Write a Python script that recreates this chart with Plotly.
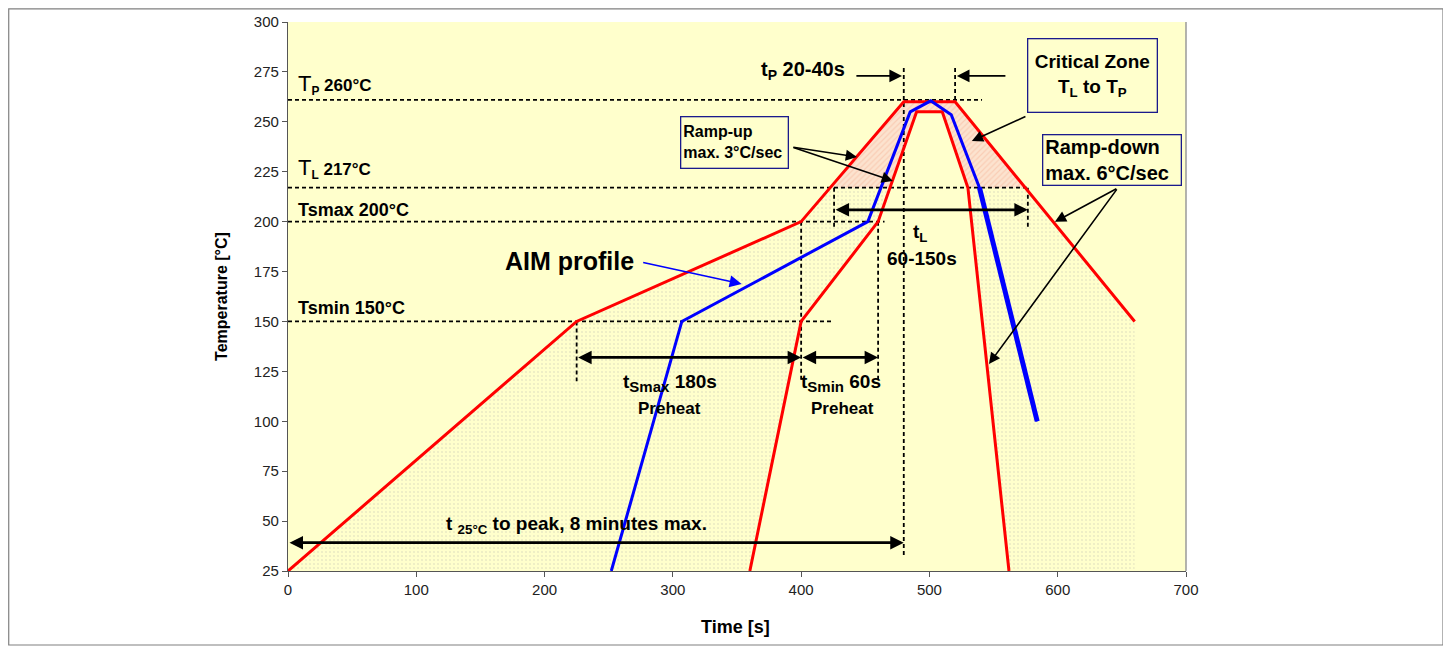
import plotly.graph_objects as go

# ---------------- data ----------------
outer_t = [0, 225, 400, 480, 520, 660]
outer_T = [25, 150, 200, 260, 260, 150]
inner_t = [360, 400, 460, 490, 510, 530, 562]
inner_T = [25, 150, 200, 255, 255, 217, 25]
aim_t = [252, 307, 452, 485, 501, 517, 539, 584]
aim_T = [25, 150, 200, 255, 260.5, 253.5, 217, 100]

T_START = 25
T_SMIN = 150
T_SMAX = 200
T_L = 217
T_P_LINE = 261
T_PREHEAT_START = 225
T_PREHEAT_MAX_END = 400
T_PREHEAT_MIN_END = 460
T_PEAK_START = 480
T_PEAK_END = 520
T_END_FILL = 660

x_ticks = [0, 100, 200, 300, 400, 500, 600, 700]
y_ticks = [25, 50, 75, 100, 125, 150, 175, 200, 225, 250, 275, 300]

FONT = "Liberation Sans, Arial, sans-serif"
BG = "#FFFFCC"


def x_at(ts, Ts, level, rising=True):
    for i in range(len(ts) - 1):
        a, b = Ts[i], Ts[i + 1]
        if a == b:
            continue
        if rising and a <= level <= b:
            return ts[i] + (level - a) / (b - a) * (ts[i + 1] - ts[i])
        if (not rising) and a >= level >= b:
            return ts[i] + (level - a) / (b - a) * (ts[i + 1] - ts[i])
    return None


oL = x_at(outer_t, outer_T, T_L, True)
oR = x_at(outer_t, outer_T, T_L, False)
iL = x_at(inner_t, inner_T, T_L, True)
iR = x_at(inner_t, inner_T, T_L, False)

# left dotted region (between outer and inner ascending, below T_L)
lx = [t for t, T in zip(outer_t, outer_T) if T < T_L and t < oL] + [oL, iL]
ly = [T for t, T in zip(outer_t, outer_T) if T < T_L and t < oL] + [T_L, T_L]
inn = [(t, T) for t, T in zip(inner_t, inner_T) if T < T_L and t < iL][::-1]
lx += [p[0] for p in inn]
ly += [p[1] for p in inn]

# right dotted region
rx = [iR, oR] + [t for t, T in zip(outer_t, outer_T) if t > oR] + [T_END_FILL]
ry = [T_L, T_L] + [T for t, T in zip(outer_t, outer_T) if t > oR] + [T_START]
inn_r = [(t, T) for t, T in zip(inner_t, inner_T) if t > iR][::-1]
rx += [p[0] for p in inn_r]
ry += [p[1] for p in inn_r]

# critical (pink) zone
px_ = [oL] + [t for t, T in zip(outer_t, outer_T) if T > T_L] + [oR, iR]
py_ = [T_L] + [T for t, T in zip(outer_t, outer_T) if T > T_L] + [T_L, T_L]
inn_c = [(t, T) for t, T in zip(inner_t, inner_T) if T > T_L][::-1]
px_ += [p[0] for p in inn_c] + [iL]
py_ += [p[1] for p in inn_c] + [T_L]

fig = go.Figure()

dot_pat = dict(shape=".", fgcolor="#D6D6BA", bgcolor=BG, size=4, solidity=0.22)
fig.add_trace(go.Scatter(x=lx, y=ly, fill="toself", mode="lines", line=dict(width=0),
                         fillcolor=BG, fillpattern=dot_pat, hoverinfo="skip"))
fig.add_trace(go.Scatter(x=rx, y=ry, fill="toself", mode="lines", line=dict(width=0),
                         fillcolor=BG, fillpattern=dot_pat, hoverinfo="skip"))
fig.add_trace(go.Scatter(x=px_, y=py_, fill="toself", mode="lines", line=dict(width=0),
                         fillcolor="#FCE3CF",
                         fillpattern=dict(shape="/", fgcolor="#F5B89C", bgcolor="#FCE3CF",
                                          size=4, solidity=0.3),
                         hoverinfo="skip"))

# dashed reference lines (drawn as traces)
dash_style = dict(color="black", width=1.8, dash="4px,3px")
h_lines = [(T_P_LINE, 0, 541), (T_L, 0, 577), (T_SMAX, 0, 465), (T_SMIN, 0, 425.6)]
for yv, x0, x1 in h_lines:
    fig.add_trace(go.Scatter(x=[x0, x1], y=[yv, yv], mode="lines", line=dash_style,
                             hoverinfo="skip"))
v_lines = [(T_PREHEAT_START, T_SMIN, 120), (T_PREHEAT_MAX_END, T_SMAX, 120),
           (T_PREHEAT_MIN_END, T_SMAX, 120), (oL + 3, T_L, 196.5), (oR + 2, T_L, 196.5),
           (T_PEAK_START, 277, 33), (T_PEAK_END, 277, 260)]
for xv, y0, y1 in v_lines:
    fig.add_trace(go.Scatter(x=[xv, xv], y=[y0, y1], mode="lines", line=dash_style,
                             hoverinfo="skip"))

# profiles
fig.add_trace(go.Scatter(x=outer_t, y=outer_T, mode="lines",
                         line=dict(color="#FF0000", width=3), hoverinfo="skip"))
fig.add_trace(go.Scatter(x=inner_t, y=inner_T, mode="lines",
                         line=dict(color="#FF0000", width=3), hoverinfo="skip"))
fig.add_trace(go.Scatter(x=aim_t, y=aim_T, mode="lines",
                         line=dict(color="#0000FF", width=3), hoverinfo="skip"))
fig.add_trace(go.Scatter(x=aim_t[-2:], y=aim_T[-2:], mode="lines",
                         line=dict(color="#0000FF", width=5), hoverinfo="skip"))

ann = []


def text(x, y, s, size=18, xanchor="center", bold=True, **kw):
    d = dict(x=x, y=y, xref="x", yref="y", text=(f"<b>{s}</b>" if bold else s),
             showarrow=False, xanchor=xanchor, yanchor="middle",
             font=dict(family=FONT, size=size, color="black"))
    d.update(kw)
    ann.append(d)


def arrow(x0, y0, x1, y1, width=1.5, size=1.5, color="black", both=False):
    ann.append(dict(x=x1, y=y1, ax=x0, ay=y0, xref="x", yref="y", axref="x", ayref="y",
                    text="", showarrow=True, arrowhead=2, arrowsize=size, arrowwidth=width,
                    arrowcolor=color, standoff=0, startstandoff=0,
                    arrowside="end+start" if both else "end"))


text(6, 268.5, '<span style="font-size:22px">T</span><b><sub>P</sub> 260°C</b>', size=17,
     xanchor="left", bold=False)
text(6, 226.5, '<span style="font-size:22px">T</span><b><sub>L</sub> 217°C</b>', size=17,
     xanchor="left", bold=False)
text(6, 206, "Tsmax 200°C", size=18, xanchor="left")
text(6, 156.5, "Tsmin 150°C", size=18, xanchor="left")
text(167.5, 180.5, "AIM profile", size=25, xanchor="left")
arrow(275.7, 179.7, 353.6, 168.8, width=1.6, size=1.5, color="#0000FF")

text(401.5, 275.5, "t<sub>P</sub> 20-40s", size=20)
arrow(441.9, 273, 478.6, 273, width=1.8, size=1.4)
arrow(560.4, 273, 521.4, 273, width=1.8, size=1.4)

# boxes
ann.append(dict(x=627.4, y=273.2, xref="x", yref="y", showarrow=False,
                text="<b>Critical Zone<br>T<sub>L</sub> to T<sub>P</sub></b>",
                font=dict(family=FONT, size=19, color="black"), align="center",
                bgcolor=BG, bordercolor="#1A1A8C", borderwidth=1.3, borderpad=2,
                width=124, height=68))
ann.append(dict(x=348.4, y=239.7, xref="x", yref="y", showarrow=False,
                text="<b>Ramp-up<br>max. 3°C/sec</b>",
                font=dict(family=FONT, size=16, color="black"), align="left",
                bgcolor=BG, bordercolor="#1A1A8C", borderwidth=1.3, borderpad=2,
                width=102, height=46))
ann.append(dict(x=642.6, y=230.9, xref="x", yref="y", showarrow=False,
                text="<b>Ramp-down<br>max. 6°C/sec</b>",
                font=dict(family=FONT, size=20, color="black"), align="left",
                bgcolor=BG, bordercolor="#1A1A8C", borderwidth=1.3, borderpad=2,
                width=133, height=45))

arrow(392.8, 237.4, 443.5, 232.4, width=1.6, size=1.4)
arrow(392.8, 237.4, 471.5, 220.4, width=1.6, size=1.4)
arrow(576, 253, 533.1, 240.4, width=1.6, size=1.4)
arrow(646.9, 216.9, 597.8, 199.9, width=1.6, size=1.4)
arrow(646.9, 216.9, 546.4, 128.7, width=1.6, size=1.4)

# timing arrows
arrow(oL + 3, 205.9, oR + 2, 205.9, width=2.7, size=1, both=True)
arrow(T_PREHEAT_START, 132, T_PREHEAT_MAX_END, 132, width=2.7, size=1, both=True)
arrow(T_PREHEAT_MAX_END, 132, T_PREHEAT_MIN_END, 132, width=2.7, size=1, both=True)
arrow(0, 39.2, T_PEAK_START, 39.2, width=2.7, size=1, both=True)

SUB = '<sub><span style="font-size:15px">{}</span></sub>'
text(492.6, 194.5, "t<sub>L</sub>", size=19)
text(494.2, 181.3, "60-150s", size=19)
text(297.7, 119.3, "t" + SUB.format("Smax") + " 180s", size=19)
text(297.7, 106.2, "Preheat", size=17)
text(431, 119.3, "t" + SUB.format("Smin") + " 60s", size=19)
text(432.6, 106.2, "Preheat", size=17)
text(224.5, 48, "t <sub>25°C</sub> to peak, 8 minutes max.", size=19)

# axis titles
ann.append(dict(x=-0.0735, y=0.501, xref="paper", yref="paper", showarrow=False,
                xanchor="center", yanchor="middle",
                text="<b>Temperature [°C]</b>", textangle=-90,
                font=dict(family=FONT, size=16, color="black")))
ann.append(dict(x=0.4978, y=-0.102, xref="paper", yref="paper", showarrow=False,
                xanchor="center", yanchor="middle",
                text="<b>Time [s]</b>", font=dict(family=FONT, size=18, color="black")))

shapes = [
    dict(type="rect", xref="paper", yref="paper", x0=-0.3110, x1=1.2862, y0=-0.1348,
         y1=1.0240, line=dict(color="#808080", width=1.2), fillcolor="rgba(0,0,0,0)",
         layer="below"),
    dict(type="line", xref="paper", yref="paper", x0=1, x1=1, y0=0, y1=1,
         line=dict(color="#9A9A9A", width=1.5)),
]

fig.update_layout(
    width=1443, height=643, autosize=False,
    margin=dict(l=280, r=265, t=14, b=80, autoexpand=False),
    paper_bgcolor="white", plot_bgcolor=BG,
    showlegend=False, annotations=ann, shapes=shapes,
    font=dict(family=FONT, color="#222"),
)
fig.update_xaxes(range=[0, 700], tickvals=x_ticks, showgrid=False, zeroline=False,
                 automargin=False,
                 showline=True, linecolor="#555", linewidth=1.2, ticks="outside",
                 ticklen=5, tickcolor="#555", tickfont=dict(family=FONT, size=15, color="#222"))
fig.update_yaxes(range=[25, 300], tickvals=y_ticks, showgrid=False, zeroline=False,
                 automargin=False,
                 showline=True, linecolor="#555", linewidth=1.2, ticks="outside",
                 ticklen=5, tickcolor="#555", tickfont=dict(family=FONT, size=15, color="#222"))

fig.write_html("out.html")
